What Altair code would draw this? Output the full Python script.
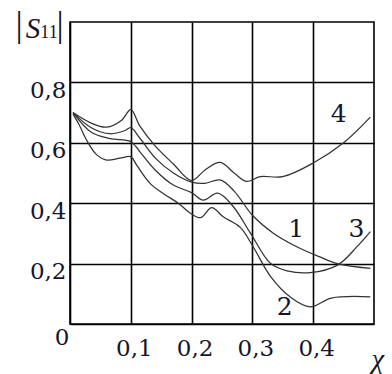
import altair as alt
import pandas as pd

# |S11| versus chi for four configurations
curve1_x = [0.005, 0.035, 0.066, 0.09, 0.1, 0.115, 0.14, 0.17, 0.2, 0.222, 0.247, 0.27, 0.3, 0.335, 0.373, 0.41, 0.44, 0.494]
curve1_y = [0.70, 0.65, 0.63, 0.64, 0.65, 0.615, 0.55, 0.50, 0.47, 0.466, 0.477, 0.44, 0.36, 0.30, 0.256, 0.223, 0.20, 0.184]

curve2_x = [0.005, 0.015, 0.027, 0.044, 0.06, 0.082, 0.1, 0.11, 0.132, 0.155, 0.178, 0.198, 0.215, 0.233, 0.252, 0.28, 0.30, 0.33, 0.362, 0.395, 0.43, 0.494]
curve2_y = [0.695, 0.66, 0.61, 0.56, 0.543, 0.549, 0.554, 0.525, 0.465, 0.43, 0.40, 0.367, 0.352, 0.385, 0.355, 0.32, 0.26, 0.157, 0.09, 0.057, 0.086, 0.09]

curve3_x = [0.005, 0.035, 0.066, 0.1, 0.115, 0.14, 0.17, 0.2, 0.219, 0.243, 0.268, 0.297, 0.33, 0.357, 0.395, 0.44, 0.472, 0.494]
curve3_y = [0.70, 0.635, 0.614, 0.604, 0.57, 0.51, 0.46, 0.435, 0.41, 0.433, 0.39, 0.30, 0.20, 0.176, 0.17, 0.195, 0.256, 0.306]

curve4_x = [0.005, 0.035, 0.06, 0.085, 0.1, 0.115, 0.14, 0.17, 0.2, 0.222, 0.247, 0.27, 0.29, 0.313, 0.35, 0.4, 0.45, 0.494]
curve4_y = [0.70, 0.665, 0.652, 0.675, 0.71, 0.655, 0.59, 0.53, 0.475, 0.51, 0.535, 0.50, 0.472, 0.488, 0.488, 0.533, 0.60, 0.685]

# curve numbers written next to the lines
label_text = ["1", "2", "3", "4"]
label_x = [0.372, 0.353, 0.471, 0.442]
label_y = [0.315, 0.055, 0.315, 0.695]

x_ticks = [0.1, 0.2, 0.3, 0.4]
y_ticks = [0.2, 0.4, 0.6, 0.8]

rows = []
for name, xs, ys in [("1", curve1_x, curve1_y), ("2", curve2_x, curve2_y),
                     ("3", curve3_x, curve3_y), ("4", curve4_x, curve4_y)]:
    rows += [{"chi": a, "s11": b, "curve": name} for a, b in zip(xs, ys)]
curves = pd.DataFrame(rows)
labels = pd.DataFrame({"chi": label_x, "s11": label_y, "text": label_text})

FONT = "DejaVu Serif"
IFONT = "Liberation Serif"
INK = "#15152a"
comma = "replace(format(datum.value, '.1f'), '.', ',')"

x_scale = alt.Scale(domain=[0, 0.5], nice=False, zero=False)
y_scale = alt.Scale(domain=[0, 1.0], nice=False, zero=False)

lines = alt.Chart(curves).mark_line(
    interpolate="catmull-rom", color="#333333", strokeWidth=1.25
).encode(
    x=alt.X("chi:Q", scale=x_scale, axis=alt.Axis(
        values=x_ticks, labelExpr=comma, title=None, ticks=False,
        labelFont=FONT, labelFontSize=23, labelColor=INK,
        labelBaseline="top", labelPadding=13, labelOffset=3,
        grid=True, gridColor="black", gridWidth=1.6, gridOpacity=1,
        domainColor="black", domainWidth=1.6)),
    y=alt.Y("s11:Q", scale=y_scale, axis=alt.Axis(
        values=y_ticks, labelExpr=comma, title=None, ticks=False,
        labelFont=FONT, labelFontSize=23, labelColor=INK,
        labelBaseline="top", labelPadding=4, labelOffset=-3,
        grid=True, gridColor="black", gridWidth=1.6, gridOpacity=1,
        domainColor="black", domainWidth=1.6)),
    detail="curve:N",
)

curve_labels = alt.Chart(labels).mark_text(
    font=FONT, fontSize=25, color=INK
).encode(x=alt.X("chi:Q", scale=x_scale), y=alt.Y("s11:Q", scale=y_scale), text="text:N")

origin = alt.Chart(pd.DataFrame({"chi": [0.0], "s11": [0.0], "t": ["0"]})).mark_text(
    font=FONT, fontSize=23, color=INK, align="center", baseline="top", dx=-8, dy=3
).encode(x=alt.X("chi:Q", scale=x_scale), y=alt.Y("s11:Q", scale=y_scale), text="t:N")

chi_label = alt.Chart(pd.DataFrame({"chi": [0.5], "s11": [0.0], "t": ["χ"]})).mark_text(
    font=IFONT, fontSize=28, fontStyle="italic", color=INK, align="center", baseline="top", dx=4, dy=22
).encode(x=alt.X("chi:Q", scale=x_scale), y=alt.Y("s11:Q", scale=y_scale), text="t:N")

# |S11| heading built from pieces: bars, italic S and subscript
bar_l = alt.Chart(pd.DataFrame({"t": ["|"]})).mark_text(
    font=IFONT, fontSize=36, color=INK, align="center", baseline="middle"
).encode(x=alt.value(-51), y=alt.value(3), text="t:N")
s_letter = alt.Chart(pd.DataFrame({"t": ["S"]})).mark_text(
    font=IFONT, fontSize=29, fontStyle="italic", color=INK, align="center", baseline="alphabetic"
).encode(x=alt.value(-37), y=alt.value(16), text="t:N")
sub = alt.Chart(pd.DataFrame({"t": ["11"]})).mark_text(
    font=IFONT, fontSize=18, color=INK, align="center", baseline="alphabetic"
).encode(x=alt.value(-21), y=alt.value(16), text="t:N")
bar_r = alt.Chart(pd.DataFrame({"t": ["|"]})).mark_text(
    font=IFONT, fontSize=36, color=INK, align="center", baseline="middle"
).encode(x=alt.value(-10), y=alt.value(3), text="t:N")

chart = alt.layer(lines, curve_labels, origin, chi_label, bar_l, s_letter, sub, bar_r).properties(
    width=304, height=302,
    autosize=alt.AutoSizeParams(type="none"),
    padding={"left": 70, "top": 22, "right": 18, "bottom": 50},
    background="white",
).configure_view(stroke="black", strokeWidth=1.6)

chart.save("out.html", embed_options={"renderer": "svg", "actions": False})
